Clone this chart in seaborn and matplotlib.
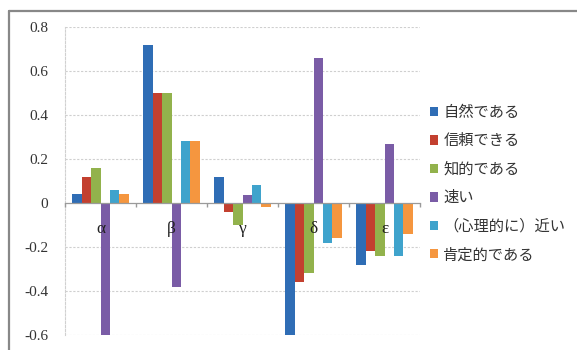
import matplotlib
matplotlib.use("Agg")
import matplotlib.pyplot as plt
import seaborn as sns
import pandas as pd
import numpy as np
from matplotlib.lines import Line2D

categories = ["α", "β", "γ", "δ", "ε"]
series_names = ["自然である", "信頼できる", "知的である", "速い", "（心理的に）近い", "肯定的である"]
s_natural = [0.04, 0.72, 0.12, -0.60, -0.28]
s_trust = [0.12, 0.50, -0.04, -0.36, -0.22]
s_smart = [0.16, 0.50, -0.10, -0.32, -0.24]
s_fast = [-0.60, -0.38, 0.035, 0.66, 0.27]
s_close = [0.06, 0.28, 0.08, -0.18, -0.24]
s_positive = [0.04, 0.28, -0.02, -0.16, -0.14]
y_ticks = [0.8, 0.6, 0.4, 0.2, 0.0, -0.2, -0.4, -0.6]
y_tick_labels = ["0.8", "0.6", "0.4", "0.2", "0", "-0.2", "-0.4", "-0.6"]
colors = ["#2f6db5", "#c3402f", "#92b24c", "#7a5ca6", "#3fa3cc", "#f5963f"]

sns.set_theme(style="white")
plt.rcParams["font.family"] = ["Noto Sans CJK JP", "DejaVu Sans"]

all_series = [s_natural, s_trust, s_smart, s_fast, s_close, s_positive]
rows = []
for name, vals in zip(series_names, all_series):
    for c, v in zip(categories, vals):
        rows.append({"cat": c, "series": name, "value": v})
df = pd.DataFrame(rows)

fig = plt.figure(figsize=(5.77, 3.5), dpi=100)

ax = fig.add_axes([65 / 577, 15 / 350, 355 / 577, 308 / 350])
ax.patch.set_alpha(0)
ax.set_axisbelow(False)

# light gridlines
for t in y_ticks:
    if t != 0:
        ax.axhline(t, color="#cfcfcf", lw=0.8, ls=(0, (2, 1.5)), zorder=0)

sns.barplot(data=df, x="cat", y="value", hue="series", order=categories,
            hue_order=series_names, palette=colors, saturation=1, width=0.8,
            edgecolor="none", linewidth=0, ax=ax, errorbar=None, zorder=2)

ax.set_ylim(-0.6, 0.8)
ax.set_xlim(-0.5, len(categories) - 0.5)
ax.set_yticks(y_ticks)
ax.set_yticklabels(y_tick_labels)
ax.tick_params(axis="y", length=0, pad=12, labelsize=11, labelcolor="#333333",
               labelfontfamily="Liberation Serif")

ax.spines["bottom"].set_position(("data", 0))
ax.spines["bottom"].set_color("#9a9a9a")
ax.spines["bottom"].set_linewidth(0.9)
ax.spines["bottom"].set_zorder(3)
for s in ["top", "right"]:
    ax.spines[s].set_visible(False)
ax.spines["left"].set_color("#d0d0d0")
ax.spines["left"].set_linewidth(0.8)
ax.spines["left"].set_linestyle((0, (2, 1.5)))

ax.set_xticks(range(len(categories)))
ax.set_xticklabels(categories)
ax.set_xticks(np.arange(len(categories) + 1) - 0.5, minor=True)
ax.tick_params(axis="x", which="major", length=0, pad=13, labelsize=12.5,
               labelcolor="#222222", labelfontfamily="Liberation Serif")
ax.tick_params(axis="x", which="minor", length=3, direction="out", color="#9a9a9a", bottom=True)
ax.xaxis.set_zorder(5)
ax.set_xlabel("")
ax.set_ylabel("")

leg = ax.legend(loc="upper left", bbox_to_anchor=(1.01, 0.77), frameon=False,
                fontsize=11, handlelength=0.55, handleheight=0.55, handletextpad=0.35,
                labelspacing=0.75, borderaxespad=0)
for t in leg.get_texts():
    t.set_color("#333333")

# outer chart-area border: top and left edges (drawn in pixel units)
top_px = 350 - 11
fig.add_artist(Line2D([9, 577], [top_px, top_px], transform=None,
                      color="#888888", lw=1.6, zorder=10))
fig.add_artist(Line2D([9, 9], [0, top_px], transform=None,
                      color="#888888", lw=1.6, zorder=10))

fig.savefig("out.png", dpi=100)
